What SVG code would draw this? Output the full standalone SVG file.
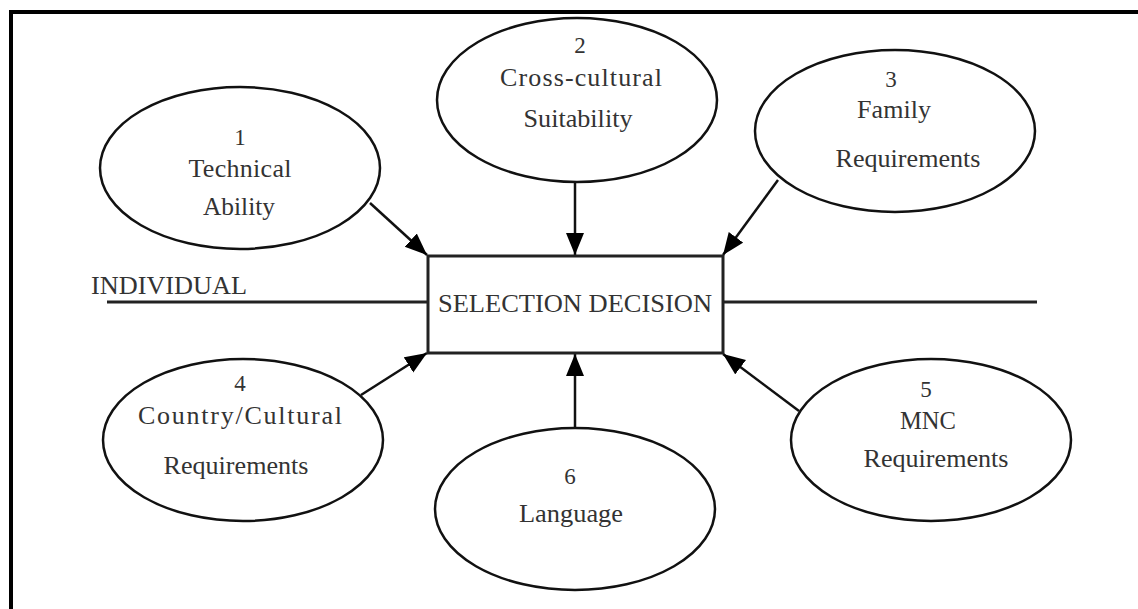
<svg xmlns="http://www.w3.org/2000/svg" width="1138" height="609" viewBox="0 0 1138 609">
  <style>
    .frame { stroke: #000; stroke-width: 4; fill: none; }
    .oval { fill: #fff; stroke: #111; stroke-width: 2.5; }
    .box { fill: #fff; stroke: #222; stroke-width: 3; }
    .axis { stroke: #222; stroke-width: 3; fill: none; }
    .link { stroke: #111; stroke-width: 2.5; fill: none; marker-end: url(#head); }
    text { font-family: "Liberation Serif", "Times New Roman", serif; fill: #333; text-anchor: middle; }
    .num { font-size: 23px; }
    .lbl { font-size: 26px; }
    .cap { font-size: 26px; text-anchor: start; }
  </style>
  <defs>
    <marker id="head" markerUnits="userSpaceOnUse" markerWidth="24" markerHeight="20" refX="22" refY="9" orient="auto">
      <path d="M0,0 L22,9 L0,18 Z" fill="#000"/>
    </marker>
  </defs>

  <rect width="1138" height="609" fill="#fff"/>

  <!-- page frame: top and left rules -->
  <path class="frame" d="M11,609 L11,12 L1138,12"/>

  <!-- individual axis -->
  <g id="axis">
    <line class="axis" x1="107" y1="302" x2="428" y2="302"/>
    <line class="axis" x1="723" y1="302" x2="1037" y2="302"/>
    <text class="cap" x="91" y="294" textLength="156" lengthAdjust="spacingAndGlyphs">INDIVIDUAL</text>
  </g>

  <!-- connectors -->
  <g id="connectors">
    <line class="link" x1="370" y1="203" x2="427" y2="255"/>
    <line class="link" x1="575" y1="182" x2="575" y2="255"/>
    <line class="link" x1="778" y1="180" x2="723" y2="255"/>
    <line class="link" x1="361" y1="395" x2="427" y2="353"/>
    <line class="link" x1="575" y1="428" x2="575" y2="354"/>
    <line class="link" x1="799" y1="411" x2="723" y2="354"/>
  </g>

  <!-- central decision box -->
  <g id="decision">
    <rect class="box" x="428" y="256" width="295" height="97"/>
    <text class="lbl" x="575" y="312" textLength="274" lengthAdjust="spacingAndGlyphs">SELECTION DECISION</text>
  </g>

  <g id="technical">
    <ellipse class="oval" cx="240" cy="168" rx="140" ry="81"/>
    <text class="num" x="240" y="145">1</text>
    <text class="lbl" x="240" y="177" textLength="103" lengthAdjust="spacing">Technical</text>
    <text class="lbl" x="239" y="215" textLength="72" lengthAdjust="spacingAndGlyphs">Ability</text>
  </g>

  <g id="crosscultural">
    <ellipse class="oval" cx="577" cy="100" rx="140" ry="82"/>
    <text class="num" x="580" y="53">2</text>
    <text class="lbl" x="581" y="86" textLength="162" lengthAdjust="spacing">Cross-cultural</text>
    <text class="lbl" x="578" y="127" textLength="109" lengthAdjust="spacingAndGlyphs">Suitability</text>
  </g>

  <g id="family">
    <ellipse class="oval" cx="895" cy="131" rx="140" ry="81"/>
    <text class="num" x="891" y="87">3</text>
    <text class="lbl" x="894" y="118" textLength="74" lengthAdjust="spacing">Family</text>
    <text class="lbl" x="908" y="167" textLength="145" lengthAdjust="spacingAndGlyphs">Requirements</text>
  </g>

  <g id="country">
    <ellipse class="oval" cx="243" cy="440" rx="140" ry="81"/>
    <text class="num" x="240" y="391">4</text>
    <text class="lbl" x="240" y="424" textLength="204" lengthAdjust="spacing">Country/Cultural</text>
    <text class="lbl" x="236" y="474" textLength="145" lengthAdjust="spacingAndGlyphs">Requirements</text>
  </g>

  <g id="mnc">
    <ellipse class="oval" cx="931" cy="440" rx="140" ry="81"/>
    <text class="num" x="926" y="397">5</text>
    <text class="lbl" x="928" y="429" textLength="56" lengthAdjust="spacingAndGlyphs">MNC</text>
    <text class="lbl" x="936" y="467" textLength="145" lengthAdjust="spacingAndGlyphs">Requirements</text>
  </g>

  <g id="language">
    <ellipse class="oval" cx="575" cy="509" rx="140" ry="81"/>
    <text class="num" x="570" y="484">6</text>
    <text class="lbl" x="571" y="522" textLength="104" lengthAdjust="spacingAndGlyphs">Language</text>
  </g>
</svg>
